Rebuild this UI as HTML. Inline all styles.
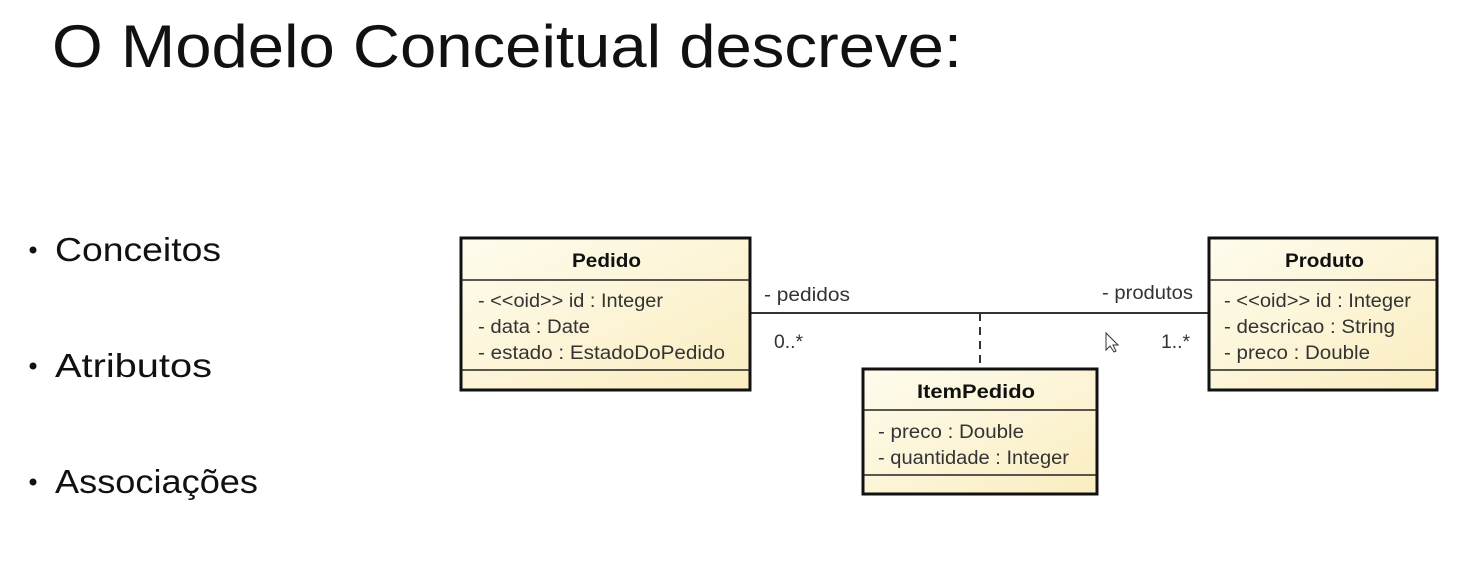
<!DOCTYPE html>
<html><head><meta charset="utf-8"><style>
html,body{margin:0;padding:0;background:#fff;}
svg{display:block;}
text{font-family:"Liberation Sans",sans-serif;}
</style></head><body>
<svg width="1470" height="571" viewBox="0 0 1470 571" xmlns="http://www.w3.org/2000/svg">
<defs>
<linearGradient id="g" x1="0" y1="0" x2="1" y2="1">
<stop offset="0" stop-color="#fefcee"/><stop offset="1" stop-color="#faedc0"/>
</linearGradient>
</defs>
<rect width="1470" height="571" fill="#fff"/>
<text x="52" y="67" font-size="60" fill="#111" textLength="910" lengthAdjust="spacingAndGlyphs">O Modelo Conceitual descreve:</text>
<g font-size="33" fill="#111">
<circle cx="33" cy="250" r="3.5"/><text x="55" y="261" textLength="166" lengthAdjust="spacingAndGlyphs">Conceitos</text>
<circle cx="33" cy="366" r="3.5"/><text x="55" y="377" textLength="157" lengthAdjust="spacingAndGlyphs">Atributos</text>
<circle cx="33" cy="482" r="3.5"/><text x="55" y="493" textLength="203" lengthAdjust="spacingAndGlyphs">Associações</text>
</g>
<line x1="751" y1="313" x2="1208" y2="313" stroke="#333" stroke-width="2"/>
<line x1="980" y1="313" x2="980" y2="368" stroke="#333" stroke-width="2" stroke-dasharray="8,6"/>
<g font-size="19" fill="#333" lengthAdjust="spacingAndGlyphs">
<text x="764" y="301" textLength="86" lengthAdjust="spacingAndGlyphs">- pedidos</text>
<text x="774" y="348" textLength="29" lengthAdjust="spacingAndGlyphs">0..*</text>
<text x="1102" y="299" textLength="91" lengthAdjust="spacingAndGlyphs">- produtos</text>
<text x="1161" y="348" textLength="29" lengthAdjust="spacingAndGlyphs">1..*</text>
</g>
<path d="M1106 333 l0 17 l4 -4 l4 6 l2 -1 l-3 -6 l5 0 z" fill="#fff" stroke="#333" stroke-width="1"/>
<!-- Pedido -->
<rect x="461" y="238" width="289" height="152" fill="url(#g)" stroke="#111" stroke-width="3"/>
<line x1="461" y1="280" x2="750" y2="280" stroke="#222" stroke-width="1.5"/>
<line x1="461" y1="370" x2="750" y2="370" stroke="#222" stroke-width="1.5"/>
<text x="572" y="267" font-size="19" font-weight="bold" fill="#111" textLength="69" lengthAdjust="spacingAndGlyphs">Pedido</text>
<g font-size="19" fill="#333">
<text x="478" y="307" textLength="185" lengthAdjust="spacingAndGlyphs">- &lt;&lt;oid&gt;&gt; id : Integer</text>
<text x="478" y="333" textLength="112" lengthAdjust="spacingAndGlyphs">- data : Date</text>
<text x="478" y="359" textLength="247" lengthAdjust="spacingAndGlyphs">- estado : EstadoDoPedido</text>
</g>
<!-- Produto -->
<rect x="1209" y="238" width="228" height="152" fill="url(#g)" stroke="#111" stroke-width="3"/>
<line x1="1209" y1="280" x2="1437" y2="280" stroke="#222" stroke-width="1.5"/>
<line x1="1209" y1="370" x2="1437" y2="370" stroke="#222" stroke-width="1.5"/>
<text x="1285" y="267" font-size="19" font-weight="bold" fill="#111" textLength="79" lengthAdjust="spacingAndGlyphs">Produto</text>
<g font-size="19" fill="#333">
<text x="1224" y="307" textLength="187" lengthAdjust="spacingAndGlyphs">- &lt;&lt;oid&gt;&gt; id : Integer</text>
<text x="1224" y="333" textLength="171" lengthAdjust="spacingAndGlyphs">- descricao : String</text>
<text x="1224" y="359" textLength="146" lengthAdjust="spacingAndGlyphs">- preco : Double</text>
</g>
<!-- ItemPedido -->
<rect x="863" y="369" width="234" height="125" fill="url(#g)" stroke="#111" stroke-width="3"/>
<line x1="863" y1="410" x2="1097" y2="410" stroke="#222" stroke-width="1.5"/>
<line x1="863" y1="475" x2="1097" y2="475" stroke="#222" stroke-width="1.5"/>
<text x="917" y="398" font-size="19" font-weight="bold" fill="#111" textLength="118" lengthAdjust="spacingAndGlyphs">ItemPedido</text>
<g font-size="19" fill="#333">
<text x="878" y="438" textLength="146" lengthAdjust="spacingAndGlyphs">- preco : Double</text>
<text x="878" y="464" textLength="191" lengthAdjust="spacingAndGlyphs">- quantidade : Integer</text>
</g>
</svg>
</body></html>
